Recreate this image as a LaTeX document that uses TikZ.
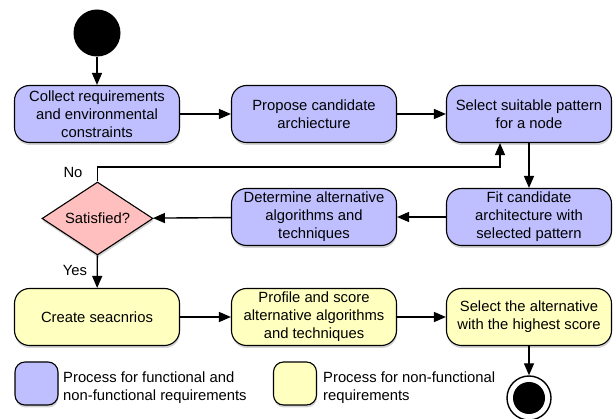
\documentclass[tikz,border=0pt]{standalone}
\usepackage{fontspec}
\setmainfont{Liberation Sans}
\usetikzlibrary{shapes.geometric,arrows.meta,shadows}
\definecolor{fblue}{RGB}{191,191,255}
\definecolor{fyellow}{RGB}{255,255,192}
\definecolor{fpink}{RGB}{255,191,191}
\tikzset{
  proc/.style={draw=black, line width=1.1pt, rounded corners=15pt, minimum width=165pt, minimum height=57pt,
    align=center, font=\fontsize{14.8pt}{18pt}\selectfont, inner sep=2pt,
    drop shadow={opacity=0.35, shadow xshift=0.5pt, shadow yshift=-2.5pt}},
  bproc/.style={proc, fill=fblue},
  yproc/.style={proc, fill=fyellow},
  legbox/.style={draw=black, line width=1.1pt, rounded corners=10pt, minimum width=43pt, minimum height=43pt,
    inner sep=0pt, drop shadow={opacity=0.35, shadow xshift=0.5pt, shadow yshift=-2.5pt}},
  arr/.style={-{Triangle[length=12pt,width=10pt]}, line width=1.4pt},
  lbl/.style={font=\fontsize{14.8pt}{18pt}\selectfont, inner sep=0pt},
  legtxt/.style={font=\fontsize{14.8pt}{18pt}\selectfont, align=left, anchor=west, inner sep=0pt}
}
\begin{document}
\begin{tikzpicture}[x=1pt,y=-1pt]
\useasboundingbox (0,0) rectangle (616,419);
\node[circle, fill=black, minimum size=47pt, inner sep=0pt] (start) at (97,33) {};
\node[bproc] (b1) at (97,114) {Collect requirements\\and environmental\\constraints};
\node[bproc] (b2) at (314,114) {Propose candidate\\archiecture};
\node[bproc] (b3) at (529,114) {Select suitable pattern\\for a node};
\node[bproc] (b4) at (529,217) {Fit candidate\\architecture with\\selected pattern};
\node[bproc] (b5) at (314,217) {Determine alternative\\algorithms and\\techniques};
\node[diamond, draw=black, line width=1.1pt, fill=fpink, aspect=1.52, inner sep=0pt,
  minimum width=111pt, minimum height=73pt, font=\fontsize{14.8pt}{18pt}\selectfont,
  drop shadow={opacity=0.35, shadow xshift=0.5pt, shadow yshift=-2.5pt}] (dia) at (97.5,218.5) {Satisfied?};
\node[yproc] (b6) at (97,317) {Create seacnrios};
\node[yproc] (b7) at (314,317) {Profile and score\\alternative algorithms\\and techniques};
\node[yproc] (b8) at (529,317) {Select the alternative\\with the highest score};
\node[circle, draw=black, line width=1.4pt, fill=white, minimum size=44pt, inner sep=0pt] (end) at (529,398) {};
\node[circle, fill=black, minimum size=32pt, inner sep=0pt] at (end.center) {};
\coordinate (turn) at (500,167);
\draw[arr] (start) -- (b1);
\draw[arr] (b1) -- (b2);
\draw[arr] (b2) -- (b3);
\draw[arr] (b3) -- (b4);
\draw[arr] (b4) -- (b5);
\draw[arr] (b5) -- (dia);
\draw[arr] (dia.north) |- (turn) -- (turn |- b3.south);
\draw[arr] (dia) -- (b6);
\draw[arr] (b6) -- (b7);
\draw[arr] (b7) -- (b8);
\draw[arr] (b8) -- (end);
\node[lbl] (no) at (73,172) {No};
\node[lbl] (yes) at (75,270) {Yes};
\node[legbox, fill=fblue] (lg1) at (36.5,383.5) {};
\node[legtxt] (lt1) at (63,388) {Process for functional and\\non-functional requirements};
\node[legbox, fill=fyellow] (lg2) at (295,383.5) {};
\node[legtxt] (lt2) at (323,388) {Process for non-functional\\requirements};
\end{tikzpicture}
\end{document}
